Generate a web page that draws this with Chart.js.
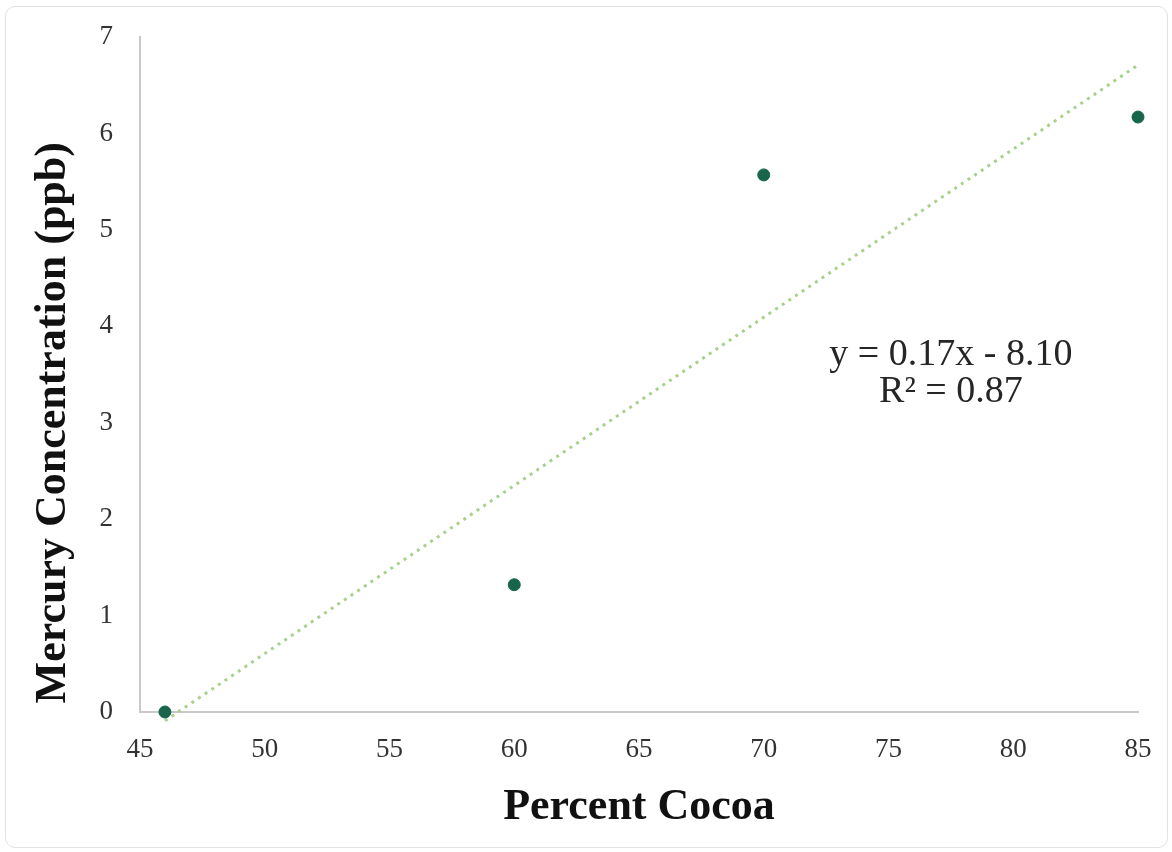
<!DOCTYPE html>
<html>
<head>
<meta charset="utf-8">
<script src="https://cdn.jsdelivr.net/npm/chart.js@4"></script>
<style>
  html, body { margin: 0; padding: 0; background: #fff; }
  #wrap { position: relative; width: 1172px; height: 852px; }
  #frame { position: absolute; left: 5px; top: 6px; width: 1161px; height: 840px;
           border: 1.5px solid #e2e2e2; border-radius: 10px; pointer-events: none; }
</style>
</head>
<body>
<div id="wrap">
  <canvas id="cocoaChart" width="1172" height="852"></canvas>
  <div id="frame"></div>
</div>
<script>
// Percent cocoa vs mercury (ppb)
const percentCocoa = [46, 60, 70, 85];
const mercuryPpb = [0, 1.32, 5.57, 6.17];
const xTicks = [45, 50, 55, 60, 65, 70, 75, 80, 85];
const yTicks = [0, 1, 2, 3, 4, 5, 6, 7];
const equationLines = ['y = 0.17x - 8.10', 'R\u00b2 = 0.87'];
const yTitle = 'Mercury Concentration (ppb)';

// least-squares trendline over the data (like Excel's linear trendline)
const n = percentCocoa.length;
const mx = percentCocoa.reduce((a, b) => a + b, 0) / n;
const my = mercuryPpb.reduce((a, b) => a + b, 0) / n;
let sxy = 0, sxx = 0;
for (let i = 0; i < n; i++) {
    sxy += (percentCocoa[i] - mx) * (mercuryPpb[i] - my);
    sxx += (percentCocoa[i] - mx) ** 2;
}
const slope = sxy / sxx;
const intercept = my - slope * mx;
const xFirst = percentCocoa[0], xLast = percentCocoa[n - 1];
const trendPoints = [
    {x: xFirst, y: slope * xFirst + intercept},
    {x: xLast, y: slope * xLast + intercept}
];

const serif = "'Liberation Serif', 'Times New Roman', serif";

// equation box + y title (the y title sits a bit below the axis centre in the original)
const extraText = {
    id: 'extraText',
    afterDatasetsDraw(chart) {
        const {ctx, scales: {x, y}} = chart;
        ctx.save();
        ctx.font = '38px ' + serif;
        ctx.fillStyle = '#262626';
        ctx.textAlign = 'center';
        ctx.textBaseline = 'middle';
        ctx.fillText(equationLines[0], x.getPixelForValue(77.5), y.getPixelForValue(3.70));
        ctx.fillText(equationLines[1], x.getPixelForValue(77.5), y.getPixelForValue(3.32));

        ctx.translate(54, y.getPixelForValue(3.0));
        ctx.rotate(-Math.PI / 2);
        ctx.font = 'bold 44px ' + serif;
        ctx.fillStyle = '#111';
        ctx.fillText(yTitle, 0, 0);
        ctx.restore();
    }
};

const ctx = document.getElementById('cocoaChart').getContext('2d');
const cocoaChart = new Chart(ctx, {
    type: 'scatter',
    data: {
        datasets: [{
            type: 'line',
            label: 'Trendline',
            data: trendPoints,
            borderColor: '#a9d18e',
            borderWidth: 3,
            borderDash: [3, 5],
            pointRadius: 0,
            fill: false,
            order: 2
        }, {
            label: 'Mercury',
            data: percentCocoa.map((v, i) => ({x: v, y: mercuryPpb[i]})),
            backgroundColor: '#17654b',
            borderColor: '#17654b',
            pointRadius: 6,
            order: 1
        }]
    },
    options: {
        responsive: false,
        animation: false,
        clip: false,
        layout: { padding: { top: 37, right: 34, left: 0, bottom: 0 } },
        plugins: { legend: { display: false }, tooltip: { enabled: false } },
        scales: {
            x: {
                type: 'linear',
                min: 45, max: 85,
                afterBuildTicks: s => { s.ticks = xTicks.map(v => ({value: v})); },
                afterFit: s => { s.height = 140; s.paddingLeft = 0; s.paddingRight = 0; },
                grid: { display: false, drawTicks: false },
                border: { display: true, color: '#c9c9c9', width: 2 },
                ticks: { padding: 22, color: '#333', font: { family: serif, size: 27 } },
                title: {
                    display: true, text: 'Percent Cocoa', color: '#111',
                    font: { family: serif, size: 44, weight: 'bold' },
                    padding: { top: 0, bottom: 18 }
                }
            },
            y: {
                min: 0, max: 7,
                afterBuildTicks: s => { s.ticks = yTicks.map(v => ({value: v})); },
                afterFit: s => { s.width = 140; s.paddingTop = 0; s.paddingBottom = 0; },
                grid: { display: false, drawTicks: false },
                border: { display: true, color: '#c9c9c9', width: 2 },
                ticks: { padding: 27, color: '#333', font: { family: serif, size: 27 } },
                title: { display: false }
            }
        }
    },
    plugins: [extraText]
});
</script>
</body>
</html>
